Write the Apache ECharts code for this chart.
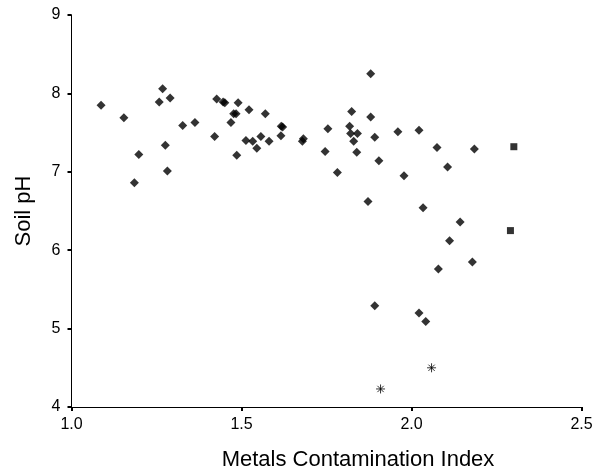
<!DOCTYPE html>
<html>
<head>
<meta charset="utf-8">
<script src="https://cdn.jsdelivr.net/npm/echarts@6/dist/echarts.min.js"></script>
<style>
  html, body { margin: 0; padding: 0; background: #fff; }
  #chart { width: 604px; height: 476px; }
</style>
</head>
<body>
<div id="chart"></div>
<script>
// Diamond points: metals contamination index vs soil pH
const mciX = [
  1.087, 1.154, 1.198, 1.185, 1.258, 1.268, 1.290, 1.276, 1.282, 1.327,
  1.363, 1.427, 1.421, 1.446, 1.451, 1.490, 1.469, 1.477, 1.484, 1.486,
  1.513, 1.522, 1.533, 1.545, 1.557, 1.570, 1.581, 1.616, 1.617, 1.621,
  1.679, 1.682, 1.746, 1.754, 1.782, 1.880, 1.824, 1.880, 1.818, 1.821,
  1.841, 1.830, 1.892, 1.960, 2.022, 1.839, 1.904, 2.075, 2.185, 2.106,
  1.978, 1.872, 2.034, 2.143, 2.112, 2.179, 2.079, 1.892, 2.022, 2.042
];
const phY = [
  7.85, 7.69, 7.22, 6.86, 7.89, 8.06, 7.94, 7.34, 7.01, 7.59,
  7.63, 7.93, 7.45, 7.89, 7.88, 7.88, 7.63, 7.74, 7.74, 7.21,
  7.40, 7.79, 7.39, 7.30, 7.45, 7.74, 7.39, 7.46, 7.58, 7.57,
  7.39, 7.42, 7.26, 7.55, 6.99, 8.25, 7.77, 7.70, 7.58, 7.49,
  7.49, 7.39, 7.44, 7.51, 7.53, 7.25, 7.14, 7.31, 7.29, 7.06,
  6.95, 6.62, 6.54, 6.36, 6.12, 5.85, 5.76, 5.29, 5.20, 5.09
];
// Square points
const squareX = [2.301, 2.291];
const squareY = [7.32, 6.25];
// Asterisk points
const starX = [2.059, 1.909];
const starY = [4.50, 4.23];

const xTicks = { min: 1.0, max: 2.5, step: 0.5 };
const yTicks = { min: 4, max: 9, step: 1 };

const zip = (xs, ys) => xs.map((x, i) => [x, ys[i]]);

const INK = '#000';
const FONT = '"Liberation Sans", Arial, sans-serif';

const chart = echarts.init(document.getElementById('chart'));
chart.setOption({
  animation: false,
  backgroundColor: '#fff',
  grid: { left: 71.5, right: 22.5, top: 15, bottom: 67 },
  xAxis: {
    type: 'value',
    min: xTicks.min,
    max: xTicks.max,
    interval: xTicks.step,
    name: 'Metals Contamination Index',
    nameLocation: 'middle',
    nameGap: 42,
    nameTextStyle: { color: INK, fontSize: 22, fontFamily: FONT, padding: [0, 0, 0, 63] },
    axisLine: { lineStyle: { color: INK, width: 1 } },
    axisTick: { length: 4, lineStyle: { color: INK, width: 2 } },
    axisLabel: {
      color: INK, fontSize: 16, fontFamily: FONT, margin: 10,
      formatter: (v) => v.toFixed(1)
    },
    splitLine: { show: false }
  },
  yAxis: {
    type: 'value',
    min: yTicks.min,
    max: yTicks.max,
    interval: yTicks.step,
    name: 'Soil pH',
    nameLocation: 'middle',
    nameGap: 37,
    nameTextStyle: { color: INK, fontSize: 22, fontFamily: FONT },
    axisLine: { show: true, lineStyle: { color: INK, width: 1 } },
    axisTick: { show: true, length: 4, lineStyle: { color: INK, width: 2 } },
    axisLabel: { color: INK, fontSize: 16, fontFamily: FONT, margin: 11 },
    splitLine: { show: false }
  },
  series: [
    {
      type: 'scatter',
      symbol: 'diamond',
      symbolSize: 9,
      itemStyle: { color: INK },
      data: zip(mciX, phY)
    },
    {
      type: 'scatter',
      symbol: 'rect',
      symbolSize: 7,
      itemStyle: { color: INK },
      data: zip(squareX, squareY)
    },
    {
      type: 'scatter',
      symbol: 'path://M0,5L10,5M5,0L5,10M1.5,1.5L8.5,8.5M8.5,1.5L1.5,8.5',
      symbolSize: 9,
      itemStyle: { color: 'transparent', borderColor: INK, borderWidth: 1 },
      data: zip(starX, starY)
    }
  ]
});
</script>
</body>
</html>
